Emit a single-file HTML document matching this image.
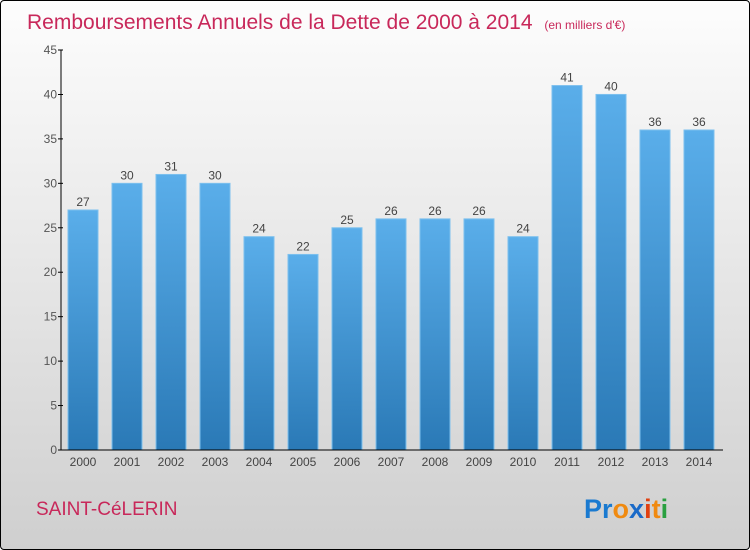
<!DOCTYPE html>
<html><head><meta charset="utf-8"><style>
body{margin:0}
#wrap{width:748px;height:548px;border:1px solid #000;border-radius:4px;background:linear-gradient(#fdfdfd,#cfcfcf);position:relative;overflow:hidden;font-family:"Liberation Sans",sans-serif}
</style></head><body>
<div id="wrap">
<svg id="svg" width="748" height="548" style="position:absolute;left:0;top:0">
<defs><linearGradient id="bg" x1="0" y1="0" x2="0" y2="1"><stop offset="0" stop-color="#5aaeea"/><stop offset="1" stop-color="#2a79b6"/></linearGradient></defs>
<text x="26" y="28" font-size="21" fill="#c8285a">Remboursements Annuels de la Dette de 2000 à 2014 <tspan font-size="12" dx="6">(en milliers d'€)</tspan></text>
<g id="plot"></g>
<text x="35" y="514" font-size="19" fill="#c8285a">SAINT-CéLERIN</text>
<text x="583" y="517" font-size="27" font-weight="bold"><tspan fill="#1a7ad0">Pr</tspan><tspan fill="#f08a10">o</tspan><tspan fill="#1a6ac8">x</tspan><tspan fill="#e04010">i</tspan><tspan fill="#f08a10">t</tspan><tspan fill="#2aa040">i</tspan></text>
</svg>
</div>
<script>
const categories=["2000","2001","2002","2003","2004","2005","2006","2007","2008","2009","2010","2011","2012","2013","2014"];
const values=[27,30,31,30,24,22,25,26,26,26,24,41,40,36,36];
const yTicks=[0,5,10,15,20,25,30,35,40,45];
const NS="http://www.w3.org/2000/svg";
const g=document.getElementById('plot');
const x0=60,x1=720,yBase=449,yTop=49,yMax=45;
const slot=(x1-x0)/categories.length;
const y=v=>yBase-(v/yMax)*(yBase-yTop);
function mk(t,a){const e=document.createElementNS(NS,t);for(const k in a)e.setAttribute(k,a[k]);g.appendChild(e);return e;}
values.forEach((v,i)=>{
 const bx=x0+i*slot+7;
 const r=mk('rect',{x:bx,y:y(v),width:30,height:yBase-y(v),fill:'url(#bg)',stroke:'#7cc0ee','stroke-width':1});
 
 
 const t=mk('text',{x:bx+15,y:y(v)-4,'font-size':12,fill:'#444','text-anchor':'middle'});
 t.textContent=v;
 
 
 const c=mk('text',{x:bx+15,y:465,'font-size':12,fill:'#444','text-anchor':'middle'});
 c.textContent=categories[i];
 
 
});
yTicks.forEach(v=>{
 mk('line',{x1:x0-3,x2:x0+2,y1:y(v),y2:y(v),stroke:'#000'});
 const t=mk('text',{x:x0-4,y:y(v)+4,'font-size':12,fill:'#555','text-anchor':'end'});
 t.textContent=v;
 
 
});
const ya=mk('line',{x1:x0,x2:x0,y1:yTop,y2:yBase,stroke:'#000'});


const xa=mk('line',{x1:x0,x2:x1+2,y1:yBase,y2:yBase,stroke:'#000'});


</script>
</body></html>
